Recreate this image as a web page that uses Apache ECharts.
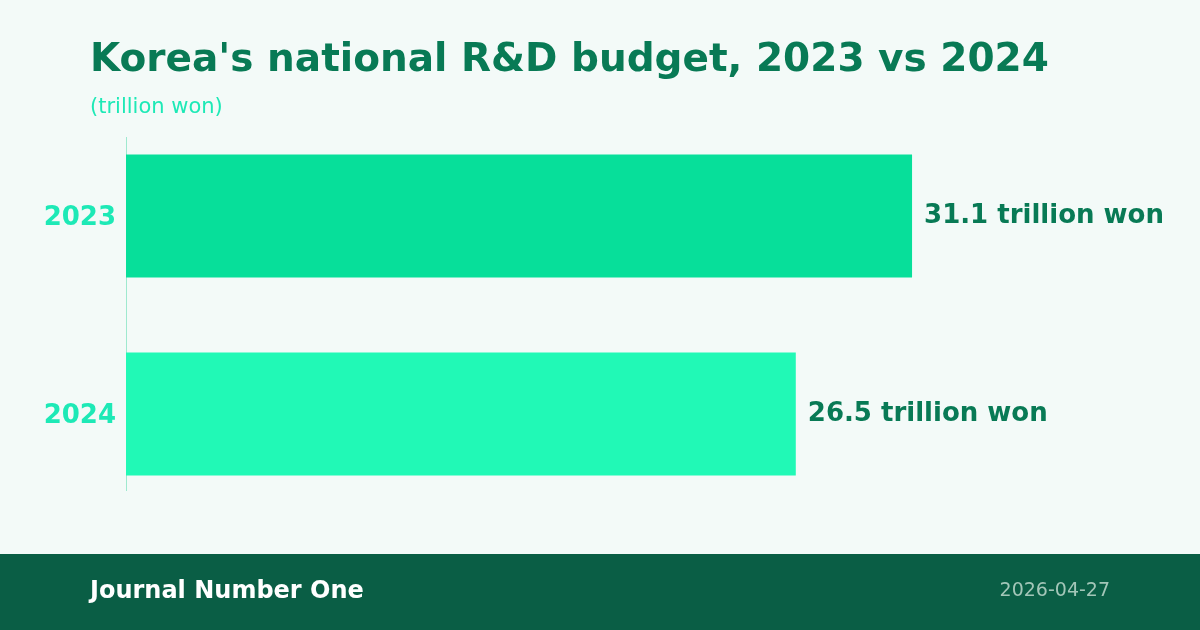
<!DOCTYPE html>
<html lang="en">
<head>
    <meta charset="UTF-8">
    <title>Korea's national R&D budget, 2023 vs 2024</title>
    <script src="https://cdn.jsdelivr.net/npm/echarts@6/dist/echarts.min.js"></script>
    <style>
        html, body { margin: 0; padding: 0; background: #f3faf8; }
        #container { width: 1200px; height: 630px; }
    </style>
</head>
<body>
<div id="container"></div>
<script type="text/javascript">
    // data
    let years = ['2023', '2024'];
    let budget = [31.1, 26.5];
    let unit = 'trillion won';

    let barColors = ['#07df9a', '#21f9b6'];

    let myChart = echarts.init(document.getElementById('container'));

    let option = {
        backgroundColor: '#f3faf8',
        textStyle: { fontFamily: 'DejaVu Sans' },
        title: [{
            text: "Korea's national R&D budget, 2023 vs 2024",
            left: 85,
            top: 36,
            textStyle: { fontSize: 39, fontWeight: 'bold', color: '#087a55', fontFamily: 'DejaVu Sans' }
        }, {
            text: '(' + unit + ')',
            left: 85,
            top: 92,
            textStyle: { fontSize: 21, fontWeight: 'normal', color: '#1de9b6', fontFamily: 'DejaVu Sans' }
        }],
        grid: { left: 126, right: 63, top: 117, bottom: 117 },
        xAxis: {
            type: 'value',
            min: 0,
            max: 40,
            show: false
        },
        yAxis: {
            type: 'category',
            data: years,
            inverse: true,
            axisLine: { show: false },
            axisTick: { show: false },
            axisLabel: {
                margin: 10,
                formatter: '{v|{value}}',
                rich: {
                    v: {
                        fontSize: 26,
                        fontWeight: 'bold',
                        color: '#1de9b6',
                        fontFamily: 'DejaVu Sans',
                        padding: [5, 0, 0, 0]
                    }
                }
            }
        },
        series: [{
            type: 'bar',
            barWidth: 123,
            data: budget.map(function (v, i) {
                return { value: v, itemStyle: { color: barColors[i] } };
            }),
            label: {
                show: true,
                position: 'right',
                distance: 12,
                formatter: '{c} ' + unit,
                fontSize: 26,
                fontWeight: 'bold',
                color: '#087a55',
                fontFamily: 'DejaVu Sans'
            }
        }],
        graphic: [{
            type: 'line',
            shape: { x1: 126.5, y1: 137, x2: 126.5, y2: 491 },
            style: { stroke: '#9ee9cf', lineWidth: 1 }
        }, {
            type: 'rect',
            shape: { x: 0, y: 554, width: 1200, height: 76 },
            style: { fill: '#0a5e45' }
        }, {
            type: 'text',
            left: 90,
            top: 580,
            style: {
                text: 'Journal Number One',
                font: 'bold 24px "DejaVu Sans"',
                fill: '#ffffff'
            }
        }, {
            type: 'text',
            right: 90,
            top: 582,
            style: {
                text: '2026-04-27',
                font: '19px "DejaVu Sans"',
                fill: '#a3c6b8'
            }
        }]
    };
    myChart.setOption(option);
</script>
</body>
</html>
